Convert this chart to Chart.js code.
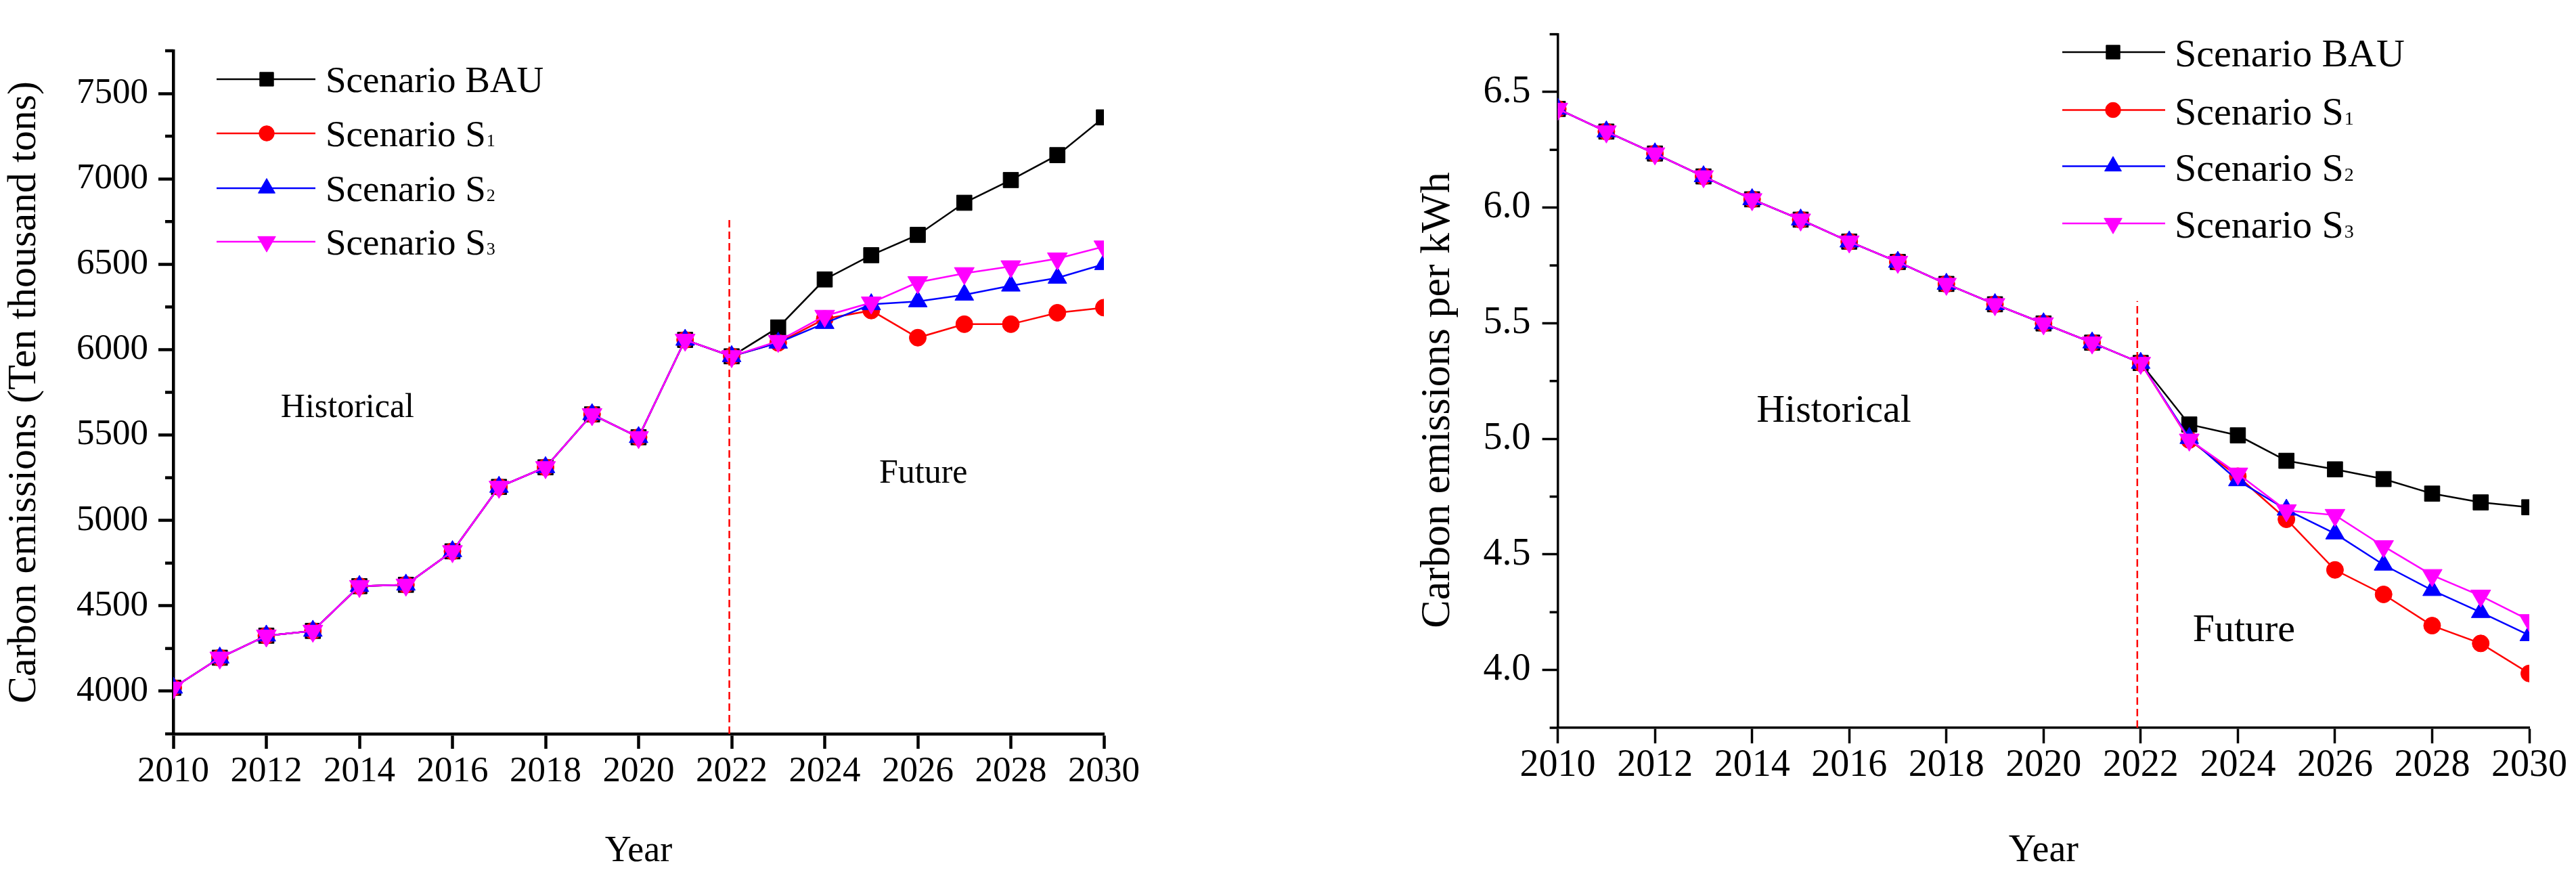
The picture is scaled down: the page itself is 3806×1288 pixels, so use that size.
<!DOCTYPE html>
<html lang="en">
<head>
<meta charset="UTF-8">
<title>Carbon emission scenarios</title>
<script src="https://cdn.jsdelivr.net/npm/chart.js"></script>
<style>
  html, body { margin: 0; padding: 0; background: #fff; }
  .panel { position: absolute; top: 0; height: 1288px; }
</style>
</head>
<body>
<div class="panel" style="left:0; width:1700px;"><canvas id="leftChart"></canvas></div>
<div class="panel" style="left:1900px; width:1906px;"><canvas id="rightChart"></canvas></div>
<script>
// years on the x axis
const years = [2010, 2011, 2012, 2013, 2014, 2015, 2016, 2017, 2018, 2019, 2020,
               2021, 2022, 2023, 2024, 2025, 2026, 2027, 2028, 2029, 2030];
const seriesNames = ['Scenario BAU', 'Scenario S\u2081', 'Scenario S\u2082', 'Scenario S\u2083'];

// carbon emissions (ten thousand tons), 2010-2022 shared by all scenarios
const emissionHist = [4020, 4196, 4325, 4353, 4615, 4623, 4819, 5196, 5311, 5621, 5487, 6057, 5961];
// 2023-2030
const emissionBAU = [6130, 6411, 6553, 6672, 6860, 6993, 7139, 7360];
const emissionS1  = [6040, 6180, 6229, 6070, 6149, 6149, 6216, 6246];
const emissionS2  = [6040, 6155, 6265, 6282, 6321, 6374, 6420, 6500];
const emissionS3  = [6050, 6197, 6275, 6394, 6447, 6487, 6533, 6603];

// carbon emissions per kWh, 2010-2022 shared
const intensityHist = [6.427, 6.329, 6.234, 6.135, 6.036, 5.948, 5.853, 5.765, 5.670, 5.582, 5.499, 5.416, 5.328];
// 2023-2030
const intensityBAU = [5.062, 5.015, 4.905, 4.868, 4.826, 4.763, 4.725, 4.704];
const intensityS1  = [4.995, 4.838, 4.652, 4.433, 4.327, 4.192, 4.115, 3.985];
const intensityS2  = [5.003, 4.820, 4.693, 4.590, 4.455, 4.345, 4.250, 4.150];
const intensityS3  = [4.996, 4.849, 4.690, 4.670, 4.535, 4.410, 4.321, 4.215];

const serif = "'Liberation Serif', 'Times New Roman', serif";

// marker / colour per scenario
const looks = [
    { color: '#000000', pointStyle: 'rect', radius: 16, rotation: 0, order: 3 },
    { color: '#ff0000', pointStyle: 'circle', radius: 12.5, rotation: 0, order: 2 },
    { color: '#0000ff', pointStyle: 'triangle', radius: 16, rotation: 0, order: 1 },
    { color: '#ff00ff', pointStyle: 'triangle', radius: 17, rotation: 180, order: 0 }
];

function toPoints(hist, future) {
    return hist.concat(future).map((v, i) => ({ x: years[i], y: v }));
}

function marker(ctx, look, x, y) {
    ctx.fillStyle = look.color;
    ctx.strokeStyle = look.color;
    ctx.lineWidth = 1;
    Chart.helpers.drawPoint(ctx, { pointStyle: look.pointStyle, radius: look.radius, rotation: look.rotation, borderWidth: 1 }, x, y);
}

// text with trailing subscript digits (S₁ -> S + small 1)
function subText(ctx, text, x, y, size) {
    const subs = { '\u2081': '1', '\u2082': '2', '\u2083': '3' };
    let main = text, sub = '';
    const last = text.slice(-1);
    if (subs[last]) { main = text.slice(0, -1); sub = subs[last]; }
    ctx.font = size + 'px ' + serif;
    ctx.fillText(main, x, y);
    if (sub) {
        const w = ctx.measureText(main).width;
        ctx.font = Math.round(size * 0.48) + 'px ' + serif;
        ctx.fillText(sub, x + w + 1, y);
    }
}

const extras = {
    id: 'extras',
    afterDraw(chart, args, o) {
        const ctx = chart.ctx;
        const xs = chart.scales.x, ys = chart.scales.y;
        const area = chart.chartArea;
        ctx.save();
        // minor ticks on the y axis
        ctx.strokeStyle = '#000';
        ctx.lineWidth = o.axisWidth;
        for (let v = ys.min; v <= ys.max + 1e-9; v += o.minorStep) {
            const r = v / o.majorStep;
            if (Math.abs(r - Math.round(r)) < 1e-6) continue;
            const py = ys.getPixelForValue(v);
            ctx.beginPath();
            ctx.moveTo(area.left, py);
            ctx.lineTo(area.left - o.minorLength, py);
            ctx.stroke();
        }
        // legend
        ctx.fillStyle = '#000';
        ctx.textBaseline = 'alphabetic';
        ctx.textAlign = 'left';
        looks.forEach((look, i) => {
            const ry = o.legend.rows[i];
            ctx.strokeStyle = look.color;
            ctx.lineWidth = 2.5;
            ctx.beginPath();
            ctx.moveTo(o.legend.x1, ry);
            ctx.lineTo(o.legend.x2, ry);
            ctx.stroke();
            marker(ctx, Object.assign({}, look, { radius: look.radius * 0.9 }), o.legend.xm, ry);
            ctx.fillStyle = '#000';
            subText(ctx, seriesNames[i], o.legend.xt, ry + o.legend.base, o.legend.size);
        });
        // period notes
        ctx.fillStyle = '#000';
        ctx.font = o.noteSize + 'px ' + serif;
        o.notes.forEach(n => {
            ctx.fillText(n.text, xs.getPixelForValue(n.x), ys.getPixelForValue(n.y));
        });
        // y title drawn by hand where it is off-centre
        if (o.yTitle) {
            ctx.translate(o.yTitle.x, o.yTitle.y);
            ctx.rotate(-Math.PI / 2);
            ctx.textAlign = 'center';
            ctx.textBaseline = 'middle';
            ctx.font = o.yTitle.size + 'px ' + serif;
            ctx.fillText(o.yTitle.text, 0, 0);
        }
        ctx.restore();
    }
};

function buildChart(id, hist, futures, s) {
    const datasets = looks.map((look, i) => ({
        label: seriesNames[i],
        data: toPoints(hist, futures[i]),
        borderColor: look.color,
        backgroundColor: look.color,
        borderWidth: 2.5,
        pointStyle: look.pointStyle,
        pointRadius: look.radius,
        pointHoverRadius: look.radius,
        pointRotation: look.rotation,
        pointBorderWidth: 1,
        order: look.order,
        clip: 0
    }));
    // dashed divider between historical and future
    datasets.push({
        label: 'divider',
        data: [{ x: s.divX, y: s.yMin }, { x: s.divX, y: s.divTop }],
        borderColor: '#ff0000',
        borderWidth: 2.5,
        borderDash: [11, 6],
        pointRadius: 0,
        order: -1,
        clip: 0
    });

    return new Chart(document.getElementById(id), {
        type: 'line',
        data: { datasets },
        plugins: [extras],
        options: {
            responsive: true,
            maintainAspectRatio: false,
            animation: false,
            layout: { padding: s.pad },
            scales: {
                x: {
                    type: 'linear',
                    min: 2010,
                    max: 2030,
                    afterFit: (sc) => { sc.height = s.xHeight; },
                    border: { display: true, color: '#000', width: s.axisWidth },
                    grid: { display: true, drawOnChartArea: false, tickLength: s.tickLength, tickWidth: s.axisWidth, tickColor: '#000' },
                    ticks: {
                        stepSize: 2,
                        autoSkip: false,
                        maxRotation: 0,
                        padding: s.xPad,
                        color: '#000',
                        font: { family: serif, size: s.tickSize, lineHeight: 1.2 },
                        callback: (v) => String(v)
                    },
                    title: {
                        display: true,
                        text: 'Year',
                        color: '#000',
                        padding: 0,
                        font: { family: serif, size: s.yearSize, lineHeight: 1.1 }
                    }
                },
                y: {
                    min: s.yMin,
                    max: s.yMax,
                    afterFit: (sc) => { sc.width = s.yWidth; },
                    border: { display: true, color: '#000', width: s.axisWidth },
                    grid: {
                        display: true,
                        drawOnChartArea: false,
                        tickLength: s.tickLength,
                        tickWidth: s.axisWidth,
                        tickColor: (c) => {
                            const r = c.tick ? c.tick.value / s.majorStep : 0;
                            return Math.abs(r - Math.round(r)) < 1e-6 ? '#000' : 'rgba(0,0,0,0)';
                        }
                    },
                    ticks: {
                        stepSize: s.minorStep,
                        autoSkip: false,
                        padding: s.yPad,
                        color: '#000',
                        font: { family: serif, size: s.tickSize, lineHeight: 1.2 },
                        callback: (v) => {
                            const r = v / s.majorStep;
                            return Math.abs(r - Math.round(r)) < 1e-6 ? v.toFixed(s.decimals) : null;
                        }
                    },
                    title: s.yAxisTitle ? {
                        display: true,
                        text: s.yAxisTitle,
                        color: '#000',
                        padding: 0,
                        font: { family: serif, size: s.yTitleSize, lineHeight: 1.2 }
                    } : { display: false }
                }
            },
            plugins: {
                legend: { display: false },
                tooltip: { enabled: false },
                extras: {
                    axisWidth: s.axisWidth,
                    minorStep: s.minorStep,
                    majorStep: s.majorStep,
                    minorLength: s.minorLength,
                    legend: s.legend,
                    noteSize: s.noteSize,
                    notes: s.notes,
                    yTitle: s.yTitle
                }
            }
        }
    });
}

buildChart('leftChart', emissionHist, [emissionBAU, emissionS1, emissionS2, emissionS3], {
    yMin: 3750, yMax: 7750, minorStep: 250, majorStep: 500, decimals: 0,
    divX: 2021.95, divTop: 6782,
    pad: { top: 75, right: 69, left: 0, bottom: 0 },
    yWidth: 256, xHeight: 204,
    axisWidth: 4.5, tickLength: 22, minorLength: 12,
    tickSize: 53, xPad: 2, yPad: 15, yearSize: 54,
    yAxisTitle: 'Carbon emissions (Ten thousand tons)', yTitleSize: 60,
    legend: { x1: 320, x2: 466, xm: 394, xt: 481, rows: [117, 197, 278, 357], base: 19, size: 55 },
    noteSize: 50,
    notes: [{ text: 'Historical', x: 2012.31, y: 5607 }, { text: 'Future', x: 2025.17, y: 5222 }]
});

buildChart('rightChart', intensityHist, [intensityBAU, intensityS1, intensityS2, intensityS3], {
    yMin: 3.75, yMax: 6.75, minorStep: 0.25, majorStep: 0.5, decimals: 1,
    divX: 2021.93, divTop: 5.596,
    pad: { top: 20, right: 69, left: 0, bottom: 0 },
    yWidth: 401.6, xHeight: 213,
    axisWidth: 3.5, tickLength: 23, minorLength: 12,
    tickSize: 56, xPad: 0, yPad: 17, yearSize: 56,
    yAxisTitle: null,
    yTitle: { text: 'Carbon emissions per kWh', x: 225, y: 591, size: 62 },
    legend: { x1: 1147, x2: 1299, xm: 1222, xt: 1313, rows: [77, 162.5, 245.5, 330], base: 21, size: 58 },
    noteSize: 58,
    notes: [{ text: 'Historical', x: 2014.09, y: 5.075 }, { text: 'Future', x: 2023.07, y: 4.125 }]
});
</script>
</body>
</html>
